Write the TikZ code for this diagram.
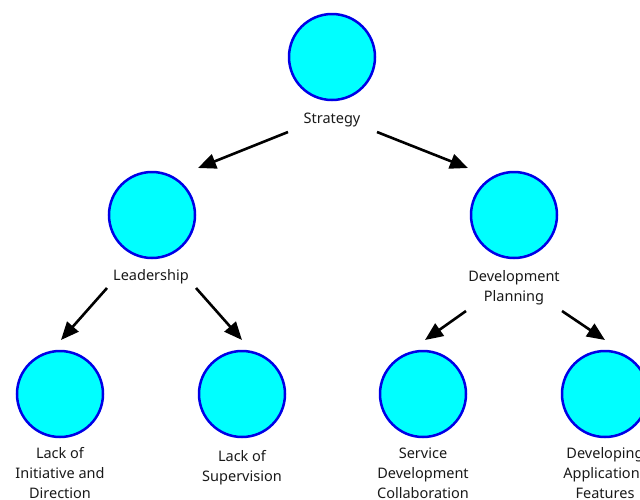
\documentclass[tikz,border=0pt]{standalone}
\usepackage{fontspec}
\setmainfont{Noto Sans}
\usetikzlibrary{arrows.meta}
\definecolor{topicfill}{RGB}{0,255,255}
\definecolor{topicline}{RGB}{0,0,230}

\begin{document}
\begin{tikzpicture}[x=1pt, y=-1pt,
    topic/.style={circle, draw=topicline, fill=topicfill, line width=2.5pt, minimum size=86pt, inner sep=0pt},
    caption/.style={align=center, font=\fontsize{14.5}{20}\selectfont, text=black!90},
    link/.style={line width=2.6pt, -{Triangle[length=18pt, width=15pt]}}]
    %%%%% START %%%%%

    \useasboundingbox (0, 0) rectangle (640, 499);

    % circles
    \node[topic] (strategy) at (332, 57) {};
    \node[topic] (leadership) at (152, 215) {};
    \node[topic] (devplan) at (514, 215) {};
    \node[topic] (initiative) at (60, 394) {};
    \node[topic] (supervision) at (242, 394) {};
    \node[topic] (service) at (423, 394) {};
    \node[topic] (features) at (605, 394) {};

    % captions
    \node[caption] (strategy-lbl) at (332, 119.5) {Strategy};
    \node[caption] (leadership-lbl) at (151, 276.5) {Leadership};
    \node[caption] (devplan-lbl) at (514, 287.5) {Development\\Planning};
    \node[caption] (initiative-lbl) at (60, 473.5) {Lack of\\Initiative and\\Direction};
    \node[caption] (supervision-lbl) at (242, 467.5) {Lack of\\Supervision};
    \node[caption] (service-lbl) at (423, 473.5) {Service\\Development\\Collaboration};
    \node[caption] (features-lbl) at (605, 473.5) {Developing\\Applications\\Features};

    % arrows
    \draw[link] ([shift={(-44, 75)}]strategy.center) -- ([shift={(46, -47)}]leadership.center);
    \draw[link] ([shift={(45, 75)}]strategy.center) -- ([shift={(-46, -47)}]devplan.center);
    \draw[link] ([shift={(-45, 73)}]leadership.center) -- ([shift={(1, -54)}]initiative.center);
    \draw[link] ([shift={(44, 73)}]leadership.center) -- ([shift={(0, -54)}]supervision.center);
    \draw[link] ([shift={(-48, 96)}]devplan.center) -- ([shift={(2, -54)}]service.center);
    \draw[link] ([shift={(48, 96)}]devplan.center) -- ([shift={(0, -54)}]features.center);

    %%%%% END %%%%%
\end{tikzpicture}
\end{document}
